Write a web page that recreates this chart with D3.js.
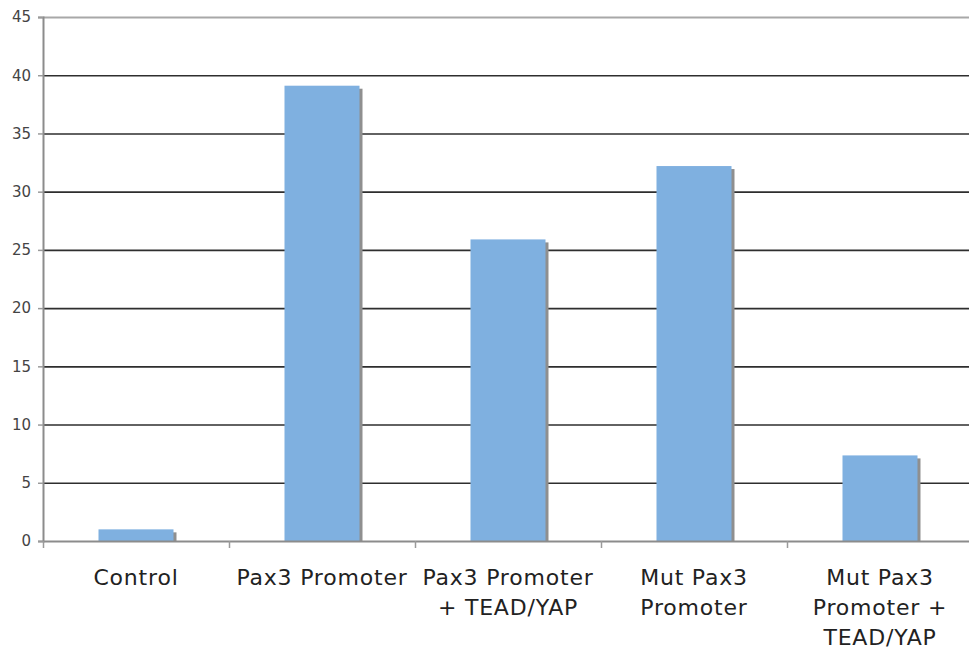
<!DOCTYPE html>
<html>
<head>
<meta charset="utf-8">
<script src="https://cdn.jsdelivr.net/npm/d3@7"></script>
<style>
  html, body { margin: 0; padding: 0; background: #fff; }
  svg { display: block; font-family: "DejaVu Sans", Verdana, sans-serif; }
</style>
</head>
<body>
<svg id="chart" width="969" height="651"></svg>
<script>
// Luciferase reporter activity per construct
const categories = [
  ["Control"],
  ["Pax3 Promoter"],
  ["Pax3 Promoter", "+ TEAD/YAP"],
  ["Mut Pax3", "Promoter"],
  ["Mut Pax3", "Promoter +", "TEAD/YAP"]
];
const values = [1.0, 39.1, 25.9, 32.2, 7.35];
const yTicks = [0, 5, 10, 15, 20, 25, 30, 35, 40, 45];

(function draw() {
  const svg = d3.select("#chart");
  const plotLeft = 43, plotRight = 973, plotTop = 17, plotBottom = 541;

  const x = d3.scaleBand()
    .domain(d3.range(categories.length))
    .range([plotLeft, plotRight])
    .paddingInner(0)
    .paddingOuter(0);

  const y = d3.scaleLinear().domain([0, 45]).range([plotBottom, plotTop]);

  // horizontal gridlines
  svg.append("g")
    .selectAll("line")
    .data(yTicks.filter(t => t > 0))
    .join("line")
    .attr("x1", plotLeft)
    .attr("x2", 969)
    .attr("y1", d => y(d) + 0.5)
    .attr("y2", d => y(d) + 0.5)
    .attr("stroke", d => d === 45 ? "#a8a8a8" : "#2e2e2e")
    .attr("stroke-width", d => d === 45 ? 2 : 1.6);

  // y axis
  const yAxis = d3.axisLeft(y).tickValues(yTicks).tickSize(5).tickPadding(7);
  const gy = svg.append("g").attr("transform", `translate(${plotLeft},0)`).call(yAxis);
  gy.select(".domain").attr("stroke", "#8c8c8c").attr("stroke-width", 2);
  gy.selectAll(".tick line").attr("stroke", "#9a9a9a").attr("stroke-width", 1.5);
  gy.selectAll(".tick text")
    .attr("fill", "#444")
    .style("font-size", "15px")
    .style("font-family", "\"DejaVu Sans\", Verdana, sans-serif");

  // bars with soft drop shadow on the right
  const barW = 75;
  const bars = svg.append("g");
  bars.selectAll("rect.shadow")
    .data(values)
    .join("rect")
    .attr("class", "shadow")
    .attr("x", (d, i) => x(i) + x.bandwidth() / 2 - barW / 2 + 3)
    .attr("y", d => y(d) + 3)
    .attr("width", barW)
    .attr("height", d => plotBottom - y(d) - 3)
    .attr("fill", "#8f8f8f");
  bars.selectAll("rect.bar")
    .data(values)
    .join("rect")
    .attr("class", "bar")
    .attr("x", (d, i) => x(i) + x.bandwidth() / 2 - barW / 2)
    .attr("y", d => y(d))
    .attr("width", barW)
    .attr("height", d => plotBottom - y(d))
    .attr("fill", "#7fb0e0");

  // x axis baseline and category dividers
  svg.append("line")
    .attr("x1", plotLeft).attr("x2", 969)
    .attr("y1", plotBottom + 0.5).attr("y2", plotBottom + 0.5)
    .attr("stroke", "#8c8c8c").attr("stroke-width", 2);
  svg.append("g")
    .selectAll("line")
    .data(d3.range(categories.length))
    .join("line")
    .attr("x1", i => x(i) + 0.5)
    .attr("x2", i => x(i) + 0.5)
    .attr("y1", plotBottom)
    .attr("y2", plotBottom + 7)
    .attr("stroke", "#9a9a9a")
    .attr("stroke-width", 1.5);

  // category labels
  const labels = svg.append("g");
  categories.forEach((lines, i) => {
    const cx = x(i) + x.bandwidth() / 2;
    const t = labels.append("text")
      .attr("x", cx)
      .attr("y", 585)
      .attr("text-anchor", "middle")
      .attr("fill", "#222")
      .style("font-size", "22px")
      .style("letter-spacing", "0.8px");
    lines.forEach((ln, k) => {
      t.append("tspan")
        .attr("x", cx)
        .attr("dy", k === 0 ? 0 : 30)
        .text(ln);
    });
  });
})();
</script>
</body>
</html>
